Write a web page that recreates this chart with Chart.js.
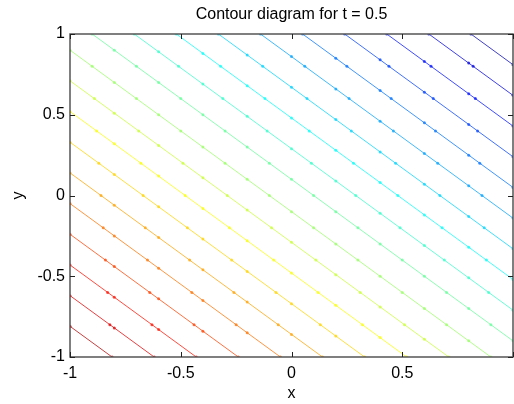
<!DOCTYPE html>
<html>
<head>
<meta charset="utf-8">
<script src="https://cdn.jsdelivr.net/npm/chart.js@4.4.0/dist/chart.umd.min.js"></script>
<style>
    html, body { margin: 0; padding: 0; background: #fff; overflow: hidden; }
</style>
</head>
<body>
<canvas id="chart" width="520" height="404"></canvas>
<script>
// contour levels (value of x + y along each line)
const levels = [-1.81, -1.62, -1.43, -1.24, -1.05, -0.86, -0.67, -0.48, -0.29, -0.10,
                0.10, 0.29, 0.48, 0.67, 0.86, 1.05, 1.24, 1.43, 1.62, 1.81];
// coarse grid the contours were traced on (vertices marked with dots)
const gridX = [-1, -0.8, -0.6, -0.4, -0.2, 0, 0.2, 0.4, 0.6, 0.8, 1];
const gridY = [-1, -0.8, -0.6, -0.4, -0.2, 0, 0.2, 0.4, 0.6, 0.8, 1];
const xTicks = [-1, -0.5, 0, 0.5, 1];
const yTicks = [-1, -0.5, 0, 0.5, 1];

const FONT = 'Liberation Sans, Arial, sans-serif';

function jet(t) {
    const clamp = v => Math.max(0, Math.min(1, v));
    const r = clamp(1.5 - Math.abs(4 * t - 3));
    const g = clamp(1.5 - Math.abs(4 * t - 2));
    const b = clamp(1.5 - Math.abs(4 * t - 1));
    return `rgba(${Math.round(r * 255)}, ${Math.round(g * 255)}, ${Math.round(b * 255)}, 0.75)`;
}

// crossing points of the line x + y = c with the grid lines
function contourPoints(c) {
    const pts = [];
    gridX.forEach(g => {
        const y = c - g;
        if (y >= -1 && y <= 1) pts.push({x: g, y});
    });
    gridY.forEach(g => {
        const x = c - g;
        if (x >= -1 && x <= 1) pts.push({x, y: g});
    });
    pts.sort((a, b) => a.x - b.x);
    return pts;
}

const datasets = levels.map(c => {
    const color = jet((2 - c) / 4);
    return {
        data: contourPoints(c),
        showLine: true,
        borderColor: color,
        backgroundColor: color,
        borderWidth: 1,
        pointRadius: 1.5,
        pointBorderWidth: 0,
        fill: false
    };
});

const boxPlugin = {
    id: 'box',
    afterDatasetsDraw(chart) {
        const {ctx, chartArea: a, scales} = chart;
        ctx.save();
        ctx.strokeStyle = '#555';
        ctx.lineWidth = 1.5;
        ctx.strokeRect(a.left, a.top, a.right - a.left, a.bottom - a.top);
        ctx.lineWidth = 1;
        ctx.strokeStyle = '#222';
        ctx.beginPath();
        xTicks.forEach(v => {
            const px = Math.round(scales.x.getPixelForValue(v)) + 0.5;
            ctx.moveTo(px, a.bottom); ctx.lineTo(px, a.bottom - 5);
            ctx.moveTo(px, a.top); ctx.lineTo(px, a.top + 5);
        });
        yTicks.forEach(v => {
            const py = Math.round(scales.y.getPixelForValue(v)) + 0.5;
            ctx.moveTo(a.left, py); ctx.lineTo(a.left + 5, py);
            ctx.moveTo(a.right, py); ctx.lineTo(a.right - 5, py);
        });
        ctx.stroke();
        // title over the plot area
        ctx.fillStyle = '#000';
        ctx.font = `16px ${FONT}`;
        ctx.textAlign = 'center';
        ctx.textBaseline = 'middle';
        ctx.fillText('Contour diagram for t = 0.5', (a.left + a.right) / 2, 15);
        ctx.restore();
    }
};

new Chart(document.getElementById('chart'), {
    type: 'scatter',
    data: { datasets },
    options: {
        responsive: false,
        animation: false,
        layout: { padding: { top: 34, right: 3, left: 0, bottom: 0 } },
        plugins: {
            legend: { display: false },
            tooltip: { enabled: false }
        },
        scales: {
            x: {
                type: 'linear',
                min: -1,
                max: 1,
                afterBuildTicks: s => { s.ticks = xTicks.map(v => ({value: v})); },
                afterFit: s => { s.height = 47; },
                grid: { display: false, drawTicks: false },
                border: { display: false },
                ticks: {
                    autoSkip: false,
                    maxRotation: 0,
                    padding: 7,
                    color: '#000',
                    font: { family: FONT, size: 16 },
                    callback: v => v === 1 ? '' : String(v)
                },
                title: {
                    display: true,
                    text: 'x',
                    color: '#000',
                    font: { family: FONT, size: 16 },
                    padding: { top: 0, bottom: 1 }
                }
            },
            y: {
                type: 'linear',
                min: -1,
                max: 1,
                afterBuildTicks: s => { s.ticks = yTicks.map(v => ({value: v})); },
                afterFit: s => { s.width = 70; },
                grid: { display: false, drawTicks: false },
                border: { display: false },
                ticks: {
                    autoSkip: false,
                    padding: 5,
                    color: '#000',
                    font: { family: FONT, size: 16 },
                    callback: v => String(v)
                },
                title: {
                    display: true,
                    text: 'y',
                    color: '#000',
                    font: { family: FONT, size: 16 },
                    padding: { top: 9, bottom: 0 }
                }
            }
        }
    },
    plugins: [boxPlugin]
});
</script>
</body>
</html>
